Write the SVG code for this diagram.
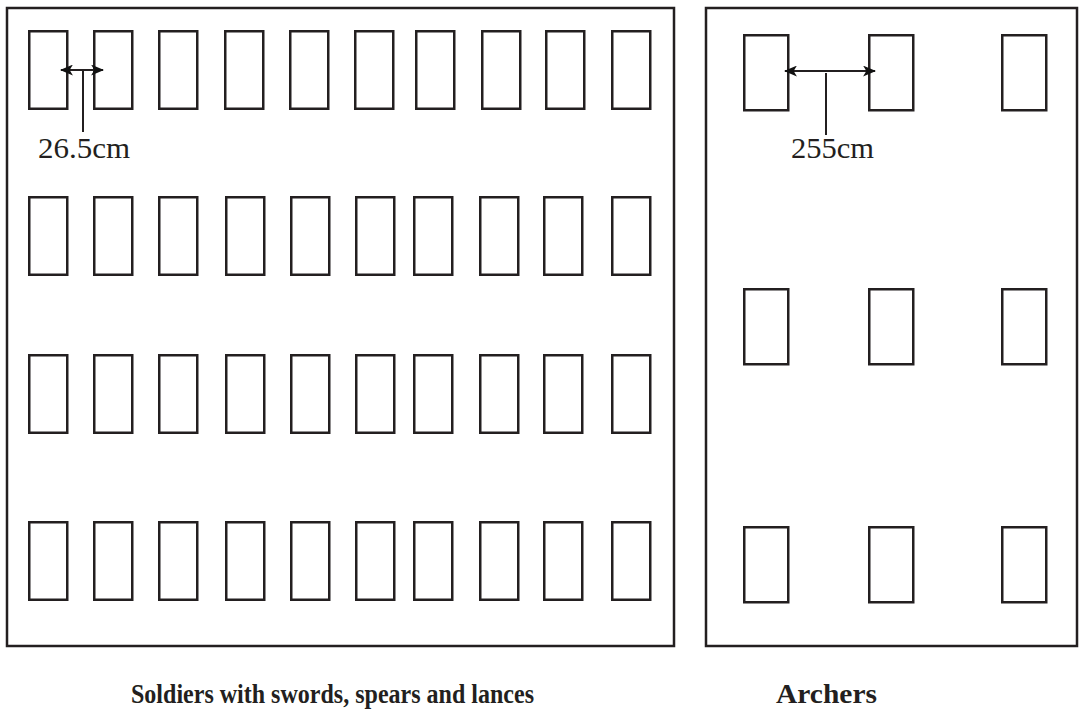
<svg xmlns="http://www.w3.org/2000/svg" width="1080" height="711" viewBox="0 0 1080 711">
  <style>
    .frame { fill: none; stroke: #231f20; stroke-width: 2.5; }
    .post { fill: #fff; stroke: #231f20; stroke-width: 2.5; }
    .dim { stroke: #231f20; stroke-width: 2; fill: none; }
    .lbl { font-family: "Liberation Serif", "Times New Roman", serif; font-size: 30px; fill: #231f20; }
    .cap { font-family: "Liberation Serif", "Times New Roman", serif; font-size: 28px; font-weight: bold; fill: #231f20; }
  </style>
  <defs>
    <marker id="head" viewBox="0 0 12 10" refX="11" refY="5" markerWidth="13" markerHeight="11" orient="auto-start-reverse" markerUnits="userSpaceOnUse">
      <path d="M0,0 L12,5 L0,10 L3,5 Z" fill="#111"/>
    </marker>
    <g id="soldier"><rect class="post" x="0" y="0" width="38" height="77.5"/></g>
    <g id="archer"><rect class="post" x="0" y="0" width="44" height="75"/></g>
  </defs>
  <rect width="1080" height="711" fill="#fff"/>

  <!-- infantry block -->
  <g id="infantry">
    <rect class="frame" x="7" y="8" width="667" height="638"/>
    <g id="infantry-row1" transform="translate(0,31.25)">
      <use href="#soldier" x="29.25"/><use href="#soldier" x="94.25"/><use href="#soldier" x="159.25"/><use href="#soldier" x="225.25"/><use href="#soldier" x="290.25"/>
      <use href="#soldier" x="355.25"/><use href="#soldier" x="416.25"/><use href="#soldier" x="482.25"/><use href="#soldier" x="546.25"/><use href="#soldier" x="612.25"/>
    </g>
    <g id="infantry-row2" transform="translate(0,197.25)">
      <use href="#soldier" x="29.25"/><use href="#soldier" x="94.25"/><use href="#soldier" x="159.25"/><use href="#soldier" x="226.25"/><use href="#soldier" x="291.25"/>
      <use href="#soldier" x="356.25"/><use href="#soldier" x="414.25"/><use href="#soldier" x="480.25"/><use href="#soldier" x="544.25"/><use href="#soldier" x="612.25"/>
    </g>
    <g id="infantry-row3" transform="translate(0,355.25)">
      <use href="#soldier" x="29.25"/><use href="#soldier" x="94.25"/><use href="#soldier" x="159.25"/><use href="#soldier" x="226.25"/><use href="#soldier" x="291.25"/>
      <use href="#soldier" x="356.25"/><use href="#soldier" x="414.25"/><use href="#soldier" x="480.25"/><use href="#soldier" x="544.25"/><use href="#soldier" x="612.25"/>
    </g>
    <g id="infantry-row4" transform="translate(0,522.25)">
      <use href="#soldier" x="29.25"/><use href="#soldier" x="94.25"/><use href="#soldier" x="159.25"/><use href="#soldier" x="226.25"/><use href="#soldier" x="291.25"/>
      <use href="#soldier" x="356.25"/><use href="#soldier" x="414.25"/><use href="#soldier" x="480.25"/><use href="#soldier" x="544.25"/><use href="#soldier" x="612.25"/>
    </g>
  </g>

  <!-- archer block -->
  <g id="archers">
    <rect class="frame" x="706" y="8" width="371" height="638"/>
    <g id="archers-row1" transform="translate(0,35.25)">
      <use href="#archer" x="744.25"/><use href="#archer" x="869.25"/><use href="#archer" x="1002.25"/>
    </g>
    <g id="archers-row2" transform="translate(0,289.25)">
      <use href="#archer" x="744.25"/><use href="#archer" x="869.25"/><use href="#archer" x="1002.25"/>
    </g>
    <g id="archers-row3" transform="translate(0,527.25)">
      <use href="#archer" x="744.25"/><use href="#archer" x="869.25"/><use href="#archer" x="1002.25"/>
    </g>
  </g>

  <!-- spacing dimensions -->
  <g id="dimensions">
    <line class="dim" x1="61" y1="70" x2="103" y2="70" stroke-width="3" marker-start="url(#head)" marker-end="url(#head)"/>
    <line class="dim" x1="83" y1="70" x2="83" y2="132"/>
    <line class="dim" x1="785" y1="71" x2="875" y2="71" marker-start="url(#head)" marker-end="url(#head)"/>
    <line class="dim" x1="826" y1="73" x2="826" y2="135"/>
  </g>

  <g id="labels">
    <text class="lbl" x="38" y="158" textLength="92" lengthAdjust="spacingAndGlyphs">26.5cm</text>
    <text class="lbl" x="791" y="158" textLength="83" lengthAdjust="spacingAndGlyphs">255cm</text>
    <text class="cap" x="131" y="703" textLength="403" lengthAdjust="spacingAndGlyphs">Soldiers with swords, spears and lances</text>
    <text class="cap" x="776" y="703" textLength="101" lengthAdjust="spacingAndGlyphs">Archers</text>
  </g>
</svg>
